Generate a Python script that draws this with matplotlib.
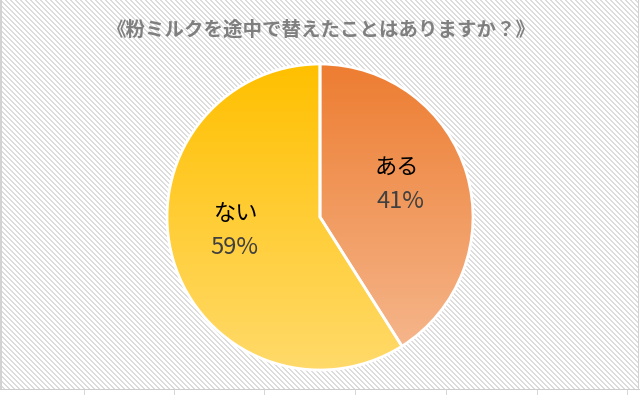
import numpy as np
import matplotlib
matplotlib.use("Agg")
import matplotlib.pyplot as plt
from matplotlib.colors import LinearSegmentedColormap

plt.rcParams['font.family'] = ['Noto Sans CJK JP', 'DejaVu Sans']

title = "《粉ミルクを途中で替えたことはありますか？》"
labels = ["ある", "ない"]
values = [41, 59]
top_colors = ["#ED7D31", "#FFC000"]
bottom_colors = ["#F6BA92", "#FFDA6A"]

W, H = 640, 395
fig = plt.figure(figsize=(W / 100, H / 100), dpi=100)

# background: hatched chart area + spreadsheet strip
bg = fig.add_axes([0, 0, 1, 1])
yy, xx = np.mgrid[0:H, 0:W]
img = np.ones((H, W, 3))
stripe = ((xx - yy) % 5) < 2
img[stripe] = np.array([220, 220, 220]) / 255
img[389:, :] = 1.0
img[389, :] = np.array([205, 205, 205]) / 255
for gx in [84, 174, 264, 355, 446, 537, 627]:
    img[390:, gx] = np.array([215, 215, 215]) / 255
img[:389, 0:2] = np.array([210, 210, 210]) / 255
img[:389, 638:] = 1.0
img[:389, 638] = np.array([210, 210, 210]) / 255
bg.imshow(img, extent=(0, W, H, 0), interpolation="nearest")
bg.set_xlim(0, W)
bg.set_ylim(H, 0)
bg.axis("off")

# pie axes
cx, cy, half = 320, 217, 160
ax = fig.add_axes([(cx - half) / W, (H - cy - half) / H, 2 * half / W, 2 * half / H])
r = 153 / half
wedges, _ = ax.pie(values, radius=r, startangle=90, counterclock=False,
                   wedgeprops=dict(edgecolor="white", linewidth=2))
grad = np.linspace(0, 1, 256).reshape(-1, 1)
for w, c0, c1 in zip(wedges, top_colors, bottom_colors):
    w.set_facecolor("none")
    cmap = LinearSegmentedColormap.from_list("g", [c0, c1])
    im = ax.imshow(grad, cmap=cmap, extent=(-r, r, -r, r), origin="upper",
                   aspect="auto", zorder=0.5)
    im.set_clip_path(w)
    w.set_zorder(1)
ax.set_xlim(-1, 1)
ax.set_ylim(-1, 1)
ax.set_aspect("equal")
ax.axis("off")

# overlay for text (pixel coordinates)
ov = fig.add_axes([0, 0, 1, 1])
ov.set_xlim(0, W)
ov.set_ylim(H, 0)
ov.axis("off")
ov.patch.set_alpha(0)

ov.text(321, 30, title, ha="center", va="center", fontsize=14,
        fontweight="bold", color="#7F7F7F")

name_pos = {"ある": (397, 167), "ない": (236, 214)}
pct_pos = {"ある": (400, 202), "ない": (234, 247)}
for lab, v in zip(labels, values):
    ov.text(*name_pos[lab], lab, ha="center", va="center", fontsize=16, color="black")
    ov.text(*pct_pos[lab], f"{v}%", ha="center", va="center", fontsize=17,
            color="#404040")

fig.savefig("out.png", dpi=100)
